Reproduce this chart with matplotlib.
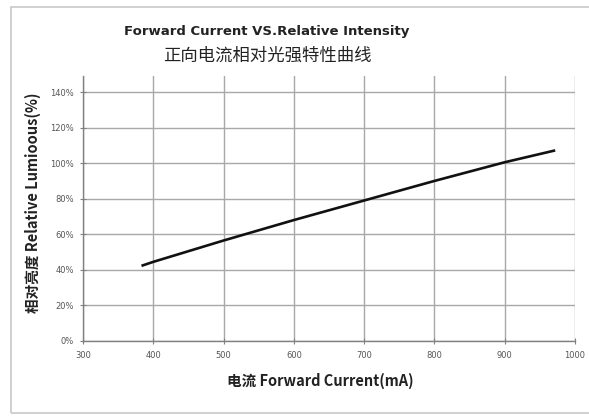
import matplotlib.pyplot as plt
from matplotlib.patches import Rectangle
from matplotlib.ticker import FuncFormatter

# forward current (mA) vs relative luminous intensity (%)
current_ma = [385, 400, 500, 600, 700, 800, 900, 970]
rel_intensity = [42.5, 44.5, 56.5, 68, 79, 90, 100.5, 107]

x_ticks = [300, 400, 500, 600, 700, 800, 900, 1000]
y_ticks = [0, 20, 40, 60, 80, 100, 120, 140]

plt.rcParams['font.family'] = ['DejaVu Sans', 'Noto Sans CJK SC']

fig = plt.figure(figsize=(5.89, 4.16), dpi=100)
W, H = 589, 416

# outer frame
fig.patches.append(Rectangle((11 / W, 1 - 413 / H), 1.0, (413 - 7) / H,
                             transform=fig.transFigure, fill=False,
                             edgecolor='#c8c8c8', lw=1.2))

ax = fig.add_axes([83 / W, 1 - 341 / H, (575 - 83) / W, (341 - 76) / H])
ax.plot(current_ma, rel_intensity, color='#111111', lw=1.9)

ax.set_xlim(300, 1000)
ax.set_ylim(0, 149)
ax.set_xticks(x_ticks)
ax.set_yticks(y_ticks)
ax.yaxis.set_major_formatter(FuncFormatter(lambda v, p: f'{int(v)}%'))
ax.grid(True, color='#a8a8a8', lw=1.0)
ax.set_axisbelow(True)
for s in ['top', 'right']:
    ax.spines[s].set_visible(False)
for s in ['left', 'bottom']:
    ax.spines[s].set_color('#808080')
    ax.spines[s].set_linewidth(1.0)
ax.tick_params(axis='both', direction='inout', length=5, color='#808080',
               labelsize=6, labelcolor='#555555')
ax.tick_params(axis='y', pad=4)
ax.tick_params(axis='x', pad=5)

fig.text(267 / W, 1 - 32 / H, 'Forward Current VS.Relative Intensity',
         ha='center', va='center', fontsize=9.5, fontweight='bold',
         color='#222222')
fig.text(267 / W, 1 - 56 / H, '正向电流相对光强特性曲线',
         ha='center', va='center', fontsize=12.5,
         family=['Noto Sans CJK SC', 'DejaVu Sans'], color='#222222')

fig.text(320 / W, 1 - 381 / H, '电流 Forward Current(mA)',
         ha='center', va='center', fontsize=10.5, fontweight='bold',
         family=['Noto Sans CJK SC', 'DejaVu Sans'], color='#222222')
fig.text(33 / W, 1 - 203 / H, '相对亮度 Relative Lumioous(%)',
         ha='center', va='center', rotation=90, fontsize=10.5,
         fontweight='bold', family=['Noto Sans CJK SC', 'DejaVu Sans'],
         color='#222222')

plt.savefig('out.png', dpi=100)
